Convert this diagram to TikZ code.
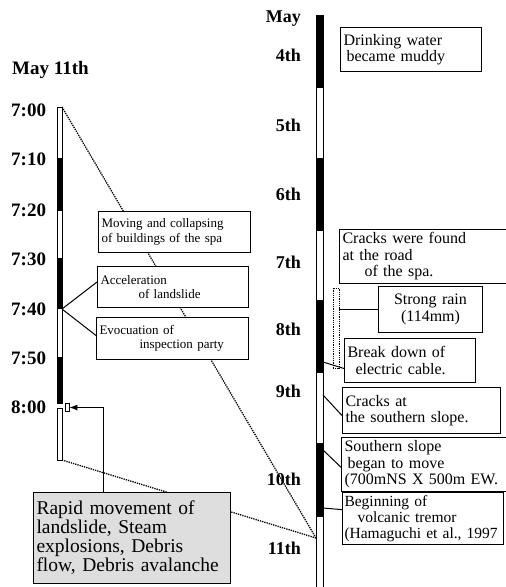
\documentclass[tikz,border=0pt]{standalone}
\usepackage{fontspec}
\setmainfont{Liberation Serif}
\usepackage{tikz}
\usetikzlibrary{calc, arrows.meta}

\tikzset{
    daylabel/.style={font=\fontsize{18}{18}\selectfont\bfseries, anchor=east, inner sep=0pt},
    timelabel/.style={font=\fontsize{19}{19}\selectfont\bfseries, anchor=west, inner sep=0pt},
    evbox/.style={draw, line width=1pt, fill=white, anchor=north west, align=left, inner sep=3pt, font=\fontsize{16}{16.5}\selectfont},
    leftbox/.style={evbox, font=\fontsize{13}{14.5}\selectfont},
    zoomline/.style={densely dotted, line width=1.3pt},
    barlight/.style={draw, line width=0.8pt, fill=white},
    bardark/.style={draw, line width=0.8pt, fill=black},
    link/.style={line width=1pt}
}

\begin{document}
\begin{tikzpicture}[x=1pt, y=-1pt]
                \useasboundingbox (0,0) rectangle (506,587);
                % zoom lines from the day bar to the hour bar
                \coordinate (h700) at (62,107);
                \coordinate (h810) at (62,460);
                \coordinate (d11) at (316,538);
                \draw[zoomline] (h700) -- (d11);
                \draw[zoomline] (h810) -- (d11);
                % hour bar
                \foreach \ya/\yb/\st in {107/158/barlight, 158/210/bardark, 210/258/barlight, 258/308/bardark, 308/357/barlight, 357/403/bardark, 408/460/barlight}
                    \path[\st] (57,\ya) rectangle (62,\yb);
                % day bar
                \foreach \ya/\yb/\st in {15/87/bardark, 87/158/barlight, 158/230/bardark, 230/300/barlight, 300/372/bardark, 372/443/barlight, 443/516/bardark, 516/592/barlight}
                    \path[\st] (316,\ya) rectangle (323,\yb);
                \node (rainbar) [draw, densely dotted, line width=0.8pt, minimum width=6pt, minimum height=80pt, inner sep=0pt] at (336,328) {};
                % labels
                \node[timelabel] (may11) at (12,70) {May 11th};
                \foreach \t/\y in {7:00/110, 7:10/159, 7:20/210, 7:30/259, 7:40/309, 7:50/358, 8:00/407}
                    \node[timelabel] at (11,\y) {\t};
                \foreach \d/\y in {May/19, 4th/55, 5th/125, 6th/194, 7th/262, 8th/329, 9th/391, 10th/479, 11th/548}
                    \node[daylabel] at (301,\y) {\d};
                % events of May 11th
                \node[leftbox, text width=146pt, minimum height=41pt] (collapse) at (98,211) {Moving and collapsing\\of buildings of the spa};
                \node[leftbox, text width=145pt, minimum height=41pt] (accel) at (97,266) {Acceleration\\\hspace*{38pt}of landslide};
                \node[leftbox, text width=146pt, minimum height=42pt] (evac) at (96,317) {Evocuation of\\\hspace*{40pt}inspection party};
                \coordinate (h740) at (62,309);
                \draw[link] (h740) -- ($(accel.west)+(0,-5)$);
                \draw[link] (h740) -- ($(evac.west)+(0,-3)$);
                \node[draw, line width=0.8pt, minimum width=4pt, minimum height=8pt, inner sep=0pt] (h800) at (67,407.5) {};
                \node[evbox, fill=black!13, text width=191pt, minimum height=91pt, inner sep=3pt, font=\fontsize{19.5}{19}\selectfont] (rapid) at (33,492) {Rapid movement of\\landslide, Steam\\explosions, Debris\\flow, Debris avalanche};
                \draw[link, -{Latex[length=8pt, width=6pt]}] ($(rapid.north west)+(70,0)$) |- (h800.east);
                % events of May 4th to 11th
                \node[evbox, text width=135pt, minimum height=44pt] (muddy) at (340,27) {Drinking water\\\hspace*{3pt}became muddy};
                \node[evbox, text width=161pt, minimum height=51pt] (road) at (339,229) {Cracks were found\\at the road\\\hspace*{22pt}of the spa.};
                \node[evbox, text width=98pt, minimum height=46pt, align=center] (rain) at (378,286) {Strong rain\\(114mm)};
                \node[evbox, text width=125pt, minimum height=44pt] (cable) at (344,338) {Break down of\\\hspace*{8pt}electric cable.};
                \node[evbox, text width=152pt, minimum height=46pt] (slope) at (342,387) {Cracks at\\the southern slope.};
                \node[evbox, text width=159pt, minimum height=50pt] (move) at (341,437) {Southern slope\\\hspace*{3pt}began to move\\(700mNS X 500m EW.};
                \node[evbox, text width=157pt, minimum height=48pt, inner xsep=2pt, font=\fontsize{15.5}{16}\selectfont] (tremor) at (342,492) {Beginning of\\\hspace*{13pt}volcanic tremor\\(Hamaguchi et al., 1997};
                \draw[link] (rainbar.east |- rain.west) -- (rain.west);
                \draw[link] (323,362) -- ($(cable.west)+(0,8)$);
                \draw[link] (323,395) -- ($(slope.west)+(0,5)$);
                \draw[link] (323,450) -- ($(move.west)+(0,3)$);
                \draw[link] (323,508) -- ($(tremor.west)+(0,-9)$);
            \end{tikzpicture}
\end{document}
